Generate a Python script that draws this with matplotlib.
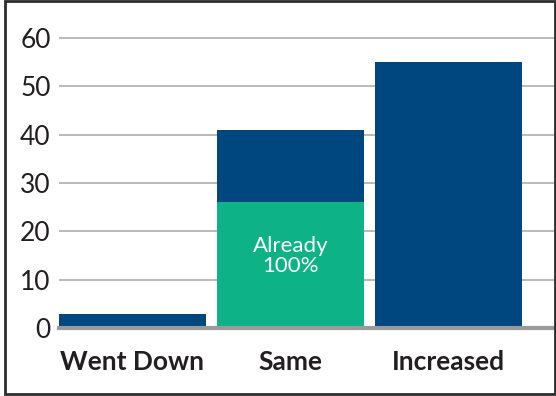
import matplotlib.pyplot as plt
from matplotlib.patches import Rectangle

categories = ["Went Down", "Same", "Increased"]
already_100 = [0, 26, 0]
total = [3, 41, 55]
tick_values = [0, 10, 20, 30, 40, 50, 60]

navy = "#00477f"
green = "#0db386"
font = "Lato"

W, H = 556, 396
fig = plt.figure(figsize=(W / 100, H / 100), dpi=100)
ax = fig.add_axes([59 / W, 1 - 328 / H, (555 - 59) / W, (328 - 20) / H])

x = range(len(categories))
rest = [t - a for t, a in zip(total, already_100)]
ax.bar(x, already_100, width=0.93, color=green, zorder=3)
ax.bar(x, rest, bottom=already_100, width=0.93, color=navy, zorder=3)

ax.text(1, 14.9, "Already\n100%", color="white", ha="center", va="center",
        fontsize=16, family=font, linespacing=1.05, zorder=4)

ax.set_xlim(-0.465, 2.675)
ax.set_ylim(0, 308 / 4.833)
ax.set_yticks(tick_values)
ax.set_xticks(list(x))
ax.set_xticklabels(categories, fontsize=19, fontweight="bold", family=font,
                   color="#231f20")
for lab in ax.get_yticklabels():
    lab.set_family(font)
ax.tick_params(axis="y", length=0, pad=6, labelsize=19, labelcolor="#231f20")
ax.tick_params(axis="x", length=0, pad=16)
ax.grid(axis="y", color="#b4b4b4", linewidth=1.3, zorder=0)
for s in ax.spines.values():
    s.set_visible(False)
ax.axhline(0, color="#9a9a9a", linewidth=3, zorder=5, clip_on=False)

fig.add_artist(Rectangle((5 / W, 1 - 394 / H), 550 / W, 393 / H,
                         transform=fig.transFigure, fill=False,
                         edgecolor="#2d2d2d", linewidth=2))

fig.savefig("out.png", dpi=100)
